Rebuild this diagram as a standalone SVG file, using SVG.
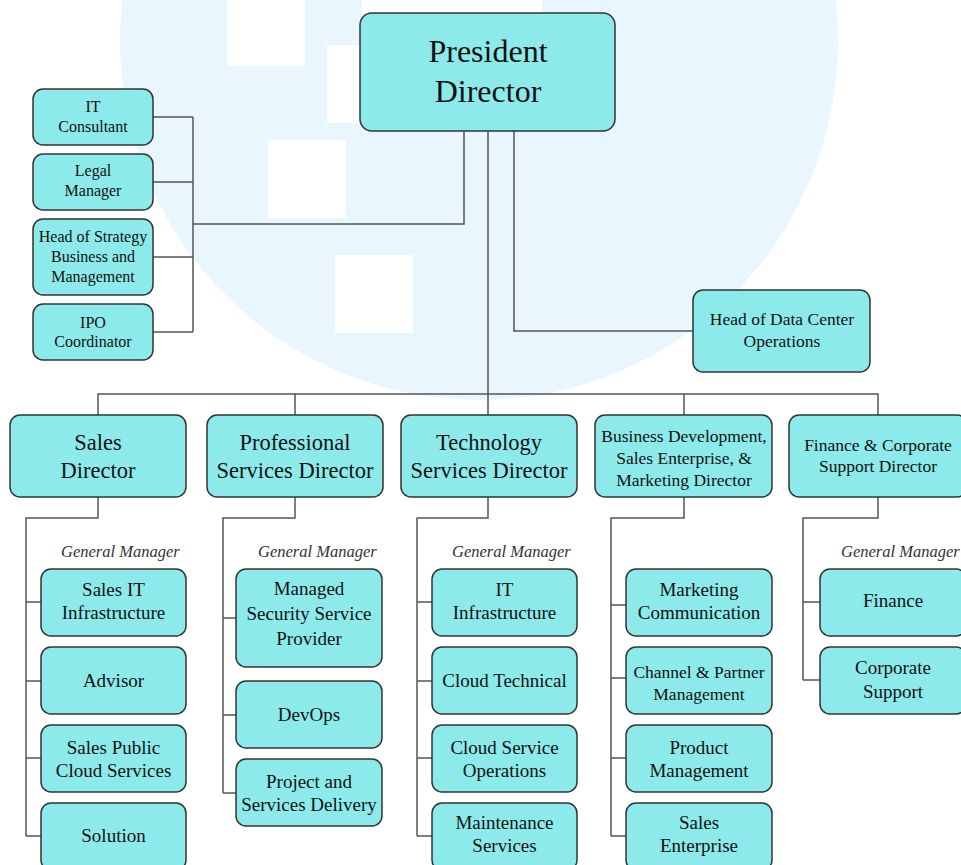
<svg xmlns="http://www.w3.org/2000/svg" width="961" height="865" viewBox="0 0 961 865" font-family="Liberation Serif, Times New Roman, serif">
<style>
.box{fill:#8CEBEA;stroke:#333;stroke-width:1.5}
text{font-family:"Liberation Serif","Times New Roman",serif}
.t{fill:#111;text-anchor:middle}
.gm{font-style:italic;font-size:16.5px;fill:#333}
.c{fill:none;stroke:#555;stroke-width:1.5}
</style>
<rect width="961" height="865" fill="#fff"/>
<g id="watermark">
<circle cx="479" cy="41" r="359" fill="#EAF6FE"/>
<rect x="227" y="0" width="78" height="66" fill="#fff"/>
<rect x="327" y="45" width="78" height="78" fill="#fff"/>
<rect x="268" y="140" width="78" height="78" fill="#fff"/>
<rect x="335" y="255" width="78" height="78" fill="#fff"/>
<rect x="362" y="0" width="180" height="14" fill="#fff"/>
</g>
<g id="connectors">
<path class="c" d="M153 117H193M153 182H193M153 257H193M153 332H193M193 117V332M193 224H464V131"/>
<path class="c" d="M514 131V331H693"/>
<path class="c" d="M488 131V415M98 415V394H878V415M295 394V415M684 394V415"/>
<path class="c" d="M98 497V518H26V836M26 602H41M26 681H41M26 758H41M26 836H41"/>
<path class="c" d="M295 497V518H223V793M223 618H236M223 715H236M223 793H236"/>
<path class="c" d="M488 497V518H417V836M417 602H432M417 681H432M417 758H432M417 836H432"/>
<path class="c" d="M684 497V518H611V836M611 605H626M611 678H626M611 758H626M611 836H626"/>
<path class="c" d="M878 497V518H803V680M803 602H820M803 680H820"/>
</g>
<g id="president"><rect class="box" x="360" y="13" width="255" height="118" rx="12"/>
<text class="t" font-size="32" x="488" y="62">President</text><text class="t" font-size="32" x="488" y="102">Director</text></g>
<g id="it-consultant"><rect class="box" x="33" y="89" width="120" height="56" rx="10"/>
<text class="t" font-size="16" x="93" y="112">IT</text><text class="t" font-size="16" x="93" y="131.5">Consultant</text></g>
<g id="legal-manager"><rect class="box" x="33" y="154" width="120" height="56" rx="10"/>
<text class="t" font-size="16" x="93" y="176">Legal</text><text class="t" font-size="16" x="93" y="195.5">Manager</text></g>
<g id="head-strategy"><rect class="box" x="33" y="219" width="120" height="76" rx="10"/>
<text class="t" font-size="16" x="93" y="241.5">Head of Strategy</text><text class="t" font-size="16" x="93" y="262">Business and</text><text class="t" font-size="16" x="93" y="282">Management</text></g>
<g id="ipo-coordinator"><rect class="box" x="33" y="304" width="120" height="56" rx="10"/>
<text class="t" font-size="16" x="93" y="327.5">IPO</text><text class="t" font-size="16" x="93" y="347">Coordinator</text></g>
<g id="head-data-center"><rect class="box" x="693" y="290" width="177" height="82" rx="10"/>
<text class="t" font-size="17.5" x="782" y="325">Head of Data Center</text><text class="t" font-size="17.5" x="782" y="347">Operations</text></g>
<g id="sales-director"><rect class="box" x="10" y="415" width="176" height="82" rx="10"/>
<text class="t" font-size="22.5" x="98" y="450">Sales</text><text class="t" font-size="22.5" x="98" y="477.5">Director</text></g>
<g id="professional-director"><rect class="box" x="207" y="415" width="176" height="82" rx="10"/>
<text class="t" font-size="22.5" x="295" y="450">Professional</text><text class="t" font-size="22.5" x="295" y="477.5">Services Director</text></g>
<g id="technology-director"><rect class="box" x="401" y="415" width="176" height="82" rx="10"/>
<text class="t" font-size="22.5" x="489" y="450">Technology</text><text class="t" font-size="22.5" x="489" y="477.5">Services Director</text></g>
<g id="business-director"><rect class="box" x="595" y="415" width="177" height="82" rx="10"/>
<text class="t" font-size="17.5" x="684" y="442">Business Development,</text><text class="t" font-size="17.5" x="684" y="464">Sales Enterprise, &amp;</text><text class="t" font-size="17.5" x="684" y="486">Marketing Director</text></g>
<g id="finance-director"><rect class="box" x="789" y="415" width="178" height="82" rx="10"/>
<text class="t" font-size="17.5" x="878" y="450.5">Finance &amp; Corporate</text><text class="t" font-size="17.5" x="878" y="472">Support Director</text></g>
<g id="gm-labels">
<text class="gm" x="61" y="557">General Manager</text>
<text class="gm" x="258" y="557">General Manager</text>
<text class="gm" x="452" y="557">General Manager</text>
<text class="gm" x="841" y="557">General Manager</text>
</g>
<g id="sales-it-infrastructure"><rect class="box" x="41" y="569" width="145" height="67" rx="10"/>
<text class="t" font-size="19" x="113.5" y="595.5">Sales IT</text><text class="t" font-size="19" x="113.5" y="619">Infrastructure</text></g>
<g id="advisor"><rect class="box" x="41" y="647" width="145" height="67" rx="10"/>
<text class="t" font-size="19" x="113.5" y="687">Advisor</text></g>
<g id="sales-public-cloud"><rect class="box" x="41" y="725" width="145" height="67" rx="10"/>
<text class="t" font-size="19" x="113.5" y="753.5">Sales Public</text><text class="t" font-size="19" x="113.5" y="777">Cloud Services</text></g>
<g id="solution"><rect class="box" x="41" y="803" width="145" height="67" rx="10"/>
<text class="t" font-size="19" x="113.5" y="842">Solution</text></g>
<g id="managed-security"><rect class="box" x="236" y="569" width="146" height="98" rx="10"/>
<text class="t" font-size="19" x="309" y="595">Managed</text><text class="t" font-size="19" x="309" y="620">Security Service</text><text class="t" font-size="19" x="309" y="645">Provider</text></g>
<g id="devops"><rect class="box" x="236" y="681" width="146" height="67" rx="10"/>
<text class="t" font-size="19" x="309" y="721">DevOps</text></g>
<g id="project-delivery"><rect class="box" x="236" y="759" width="146" height="67" rx="10"/>
<text class="t" font-size="19" x="309" y="788">Project and</text><text class="t" font-size="19" x="309" y="811">Services Delivery</text></g>
<g id="it-infrastructure"><rect class="box" x="432" y="569" width="145" height="67" rx="10"/>
<text class="t" font-size="19" x="504.5" y="595.5">IT</text><text class="t" font-size="19" x="504.5" y="619">Infrastructure</text></g>
<g id="cloud-technical"><rect class="box" x="432" y="647" width="145" height="67" rx="10"/>
<text class="t" font-size="19" x="504.5" y="687">Cloud Technical</text></g>
<g id="cloud-service-operations"><rect class="box" x="432" y="725" width="145" height="67" rx="10"/>
<text class="t" font-size="19" x="504.5" y="753.5">Cloud Service</text><text class="t" font-size="19" x="504.5" y="777">Operations</text></g>
<g id="maintenance-services"><rect class="box" x="432" y="803" width="145" height="67" rx="10"/>
<text class="t" font-size="19" x="504.5" y="828.5">Maintenance</text><text class="t" font-size="19" x="504.5" y="852">Services</text></g>
<g id="marketing-communication"><rect class="box" x="626" y="569" width="146" height="67" rx="10"/>
<text class="t" font-size="19" x="699" y="595.5">Marketing</text><text class="t" font-size="19" x="699" y="619">Communication</text></g>
<g id="channel-partner"><rect class="box" x="626" y="647" width="146" height="67" rx="10"/>
<text class="t" font-size="17.5" x="699" y="677.5">Channel &amp; Partner</text><text class="t" font-size="17.5" x="699" y="699.5">Management</text></g>
<g id="product-management"><rect class="box" x="626" y="725" width="146" height="67" rx="10"/>
<text class="t" font-size="19" x="699" y="753.5">Product</text><text class="t" font-size="19" x="699" y="777">Management</text></g>
<g id="sales-enterprise"><rect class="box" x="626" y="803" width="146" height="67" rx="10"/>
<text class="t" font-size="19" x="699" y="828.5">Sales</text><text class="t" font-size="19" x="699" y="852">Enterprise</text></g>
<g id="finance"><rect class="box" x="820" y="569" width="146" height="67" rx="10"/>
<text class="t" font-size="19" x="893" y="607">Finance</text></g>
<g id="corporate-support"><rect class="box" x="820" y="647" width="146" height="67" rx="10"/>
<text class="t" font-size="19" x="893" y="673.5">Corporate</text><text class="t" font-size="19" x="893" y="698">Support</text></g>
</svg>
